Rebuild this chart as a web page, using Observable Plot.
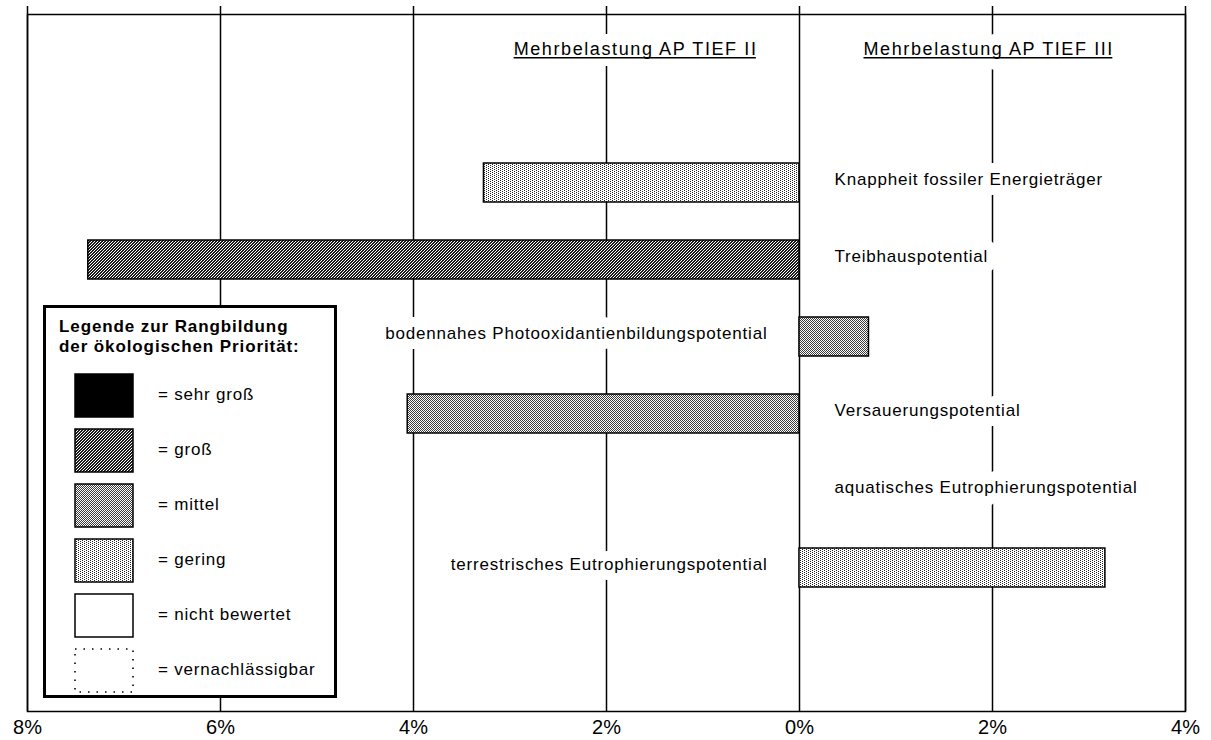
<!DOCTYPE html>
<html>
<head>
<meta charset="utf-8">
<script src="https://cdn.jsdelivr.net/npm/d3@7"></script>
<script src="https://cdn.jsdelivr.net/npm/@observablehq/plot@0.6"></script>
<style>
  html, body { margin: 0; padding: 0; background: #fff; }
  #wrap { position: relative; width: 1211px; height: 740px; overflow: hidden; }
  #wrap svg.plot-root { display: block; }
  #legend {
    position: absolute; left: 43px; top: 305px; width: 288px; height: 387px;
    border: 3px solid #000; background: #fff;
    font-family: "Liberation Sans", Arial, Helvetica, sans-serif; color: #000;
  }
  #legend .ttl { position: absolute; left: 13px; top: 9px; font-weight: bold; font-size: 17px; line-height: 20px; letter-spacing: 0.9px; white-space: nowrap; }
  #legend .row { position: absolute; left: 28px; height: 45px; }
  #legend .row svg { position: absolute; left: 0; top: 0; }
  #legend .row span { position: absolute; left: 84px; top: 0; line-height: 44px; font-size: 17px; letter-spacing: 0.8px; white-space: nowrap; }
</style>
</head>
<body>
<svg width="0" height="0" style="position:absolute">
  <defs>
    <pattern id="p-sehrgross" patternUnits="userSpaceOnUse" width="2" height="2">
      <rect width="2" height="2" fill="#000"/>
    </pattern>
    <pattern id="p-gross" patternUnits="userSpaceOnUse" width="3" height="3" shape-rendering="crispEdges">
      <rect width="3" height="3" fill="#1a1a1a"/>
      <rect x="0" y="2" width="1" height="1" fill="#fff"/>
      <rect x="1" y="1" width="1" height="1" fill="#fff"/>
      <rect x="2" y="0" width="1" height="1" fill="#fff"/>
    </pattern>
    <pattern id="p-mittel" patternUnits="userSpaceOnUse" width="2" height="2" shape-rendering="crispEdges">
      <rect width="2" height="2" fill="#fff"/>
      <rect x="0" y="0" width="1" height="1" fill="#3a3a3a"/>
      <rect x="1" y="1" width="1" height="1" fill="#3a3a3a"/>
    </pattern>
    <pattern id="p-gering" patternUnits="userSpaceOnUse" width="4" height="2" shape-rendering="crispEdges">
      <rect width="4" height="2" fill="#fff"/>
      <rect x="0" y="0" width="1" height="1" fill="#222"/>
      <rect x="2" y="1" width="1" height="1" fill="#222"/>
    </pattern>
    <pattern id="p-none" patternUnits="userSpaceOnUse" width="2" height="2">
      <rect width="2" height="2" fill="#fff"/>
    </pattern>
  </defs>
</svg>
<div id="wrap"></div>
<script>
// ---- data ----
const categories = [
  "Knappheit fossiler Energieträger",
  "Treibhauspotential",
  "bodennahes Photooxidantienbildungspotential",
  "Versauerungspotential",
  "aquatisches Eutrophierungspotential",
  "terrestrisches Eutrophierungspotential"
];
// negative = Mehrbelastung AP TIEF II (left), positive = Mehrbelastung AP TIEF III (right), in %
const values = [-3.27, -7.37, 0.72, -4.06, 0, 3.17];
const priorities = ["gering", "groß", "mittel", "mittel", "vernachlässigbar", "gering"];
const tickValues = [-8, -6, -4, -2, 0, 2, 4];
const tickLabels = ["8%", "6%", "4%", "2%", "0%", "2%", "4%"];
const titles = ["Mehrbelastung AP TIEF II", "Mehrbelastung AP TIEF III"];
const legendTitle = ["Legende zur Rangbildung", "der ökologischen Priorität:"];
const legendKeys = ["sehr groß", "groß", "mittel", "gering", "nicht bewertet", "vernachlässigbar"];
const legendLabels = ["= sehr groß", "= groß", "= mittel", "= gering", "= nicht bewertet", "= vernachlässigbar"];

const patternOf = {
  "sehr groß": "url(#p-sehrgross)",
  "groß": "url(#p-gross)",
  "mittel": "url(#p-mittel)",
  "gering": "url(#p-gering)",
  "nicht bewertet": "url(#p-none)",
  "vernachlässigbar": "url(#p-none)"
};

const rows = categories.map((c, i) => ({category: c, value: values[i], prio: priorities[i]}));
const bars = rows.filter(d => d.value !== 0);
const font = "'Liberation Sans', Arial, Helvetica, sans-serif";

const chart = Plot.plot({
  width: 1211,
  height: 740,
  marginTop: 14,
  marginBottom: 29,
  marginLeft: 27,
  marginRight: 26,
  x: {domain: [-8, 4], axis: null},
  y: {domain: categories, range: [124.25, 624.75], padding: 0.5, axis: null},
  color: {type: "identity"},
  style: {fontFamily: font, fontSize: "17px", background: "#fff", color: "#000"},
  marks: [
    Plot.ruleX(tickValues, {x: d => d, stroke: "#000", strokeWidth: 1.5, insetTop: -8}),
    Plot.frame({stroke: "#000", strokeWidth: 1.5}),
    Plot.barX(bars, {
      x1: 0, x2: "value", y: "category",
      fill: d => patternOf[d.prio],
      stroke: "#000", strokeWidth: 1.5
    }),
    Plot.text(rows.filter(d => d.value <= 0), {
      x: 0, y: "category", text: "category", textAnchor: "start", dx: 35, dy: -3,
      fill: "#000", stroke: "#fff", strokeWidth: 20, fontSize: 17, fontFamily: font
    }),
    Plot.text(rows.filter(d => d.value > 0), {
      x: 0, y: "category", text: "category", textAnchor: "end", dx: -32, dy: -3,
      fill: "#000", stroke: "#fff", strokeWidth: 20, fontSize: 17, fontFamily: font
    }),
    Plot.text([titles[0]], {
      x: 0, frameAnchor: "top", text: d => d, textAnchor: "end", dx: -42, dy: 28,
      fill: "#000", stroke: "#fff", strokeWidth: 22, fontSize: 18, fontFamily: font
    }),
    Plot.text([titles[1]], {
      x: 0, frameAnchor: "top", text: d => d, textAnchor: "start", dx: 64, dy: 28,
      fill: "#000", stroke: "#fff", strokeWidth: 22, fontSize: 18, fontFamily: font
    }),
    Plot.axisX(tickValues, {
      tickSize: 0, tickPadding: 8, label: null,
      tickFormat: d => tickLabels[tickValues.indexOf(d)],
      fontSize: 20, fontFamily: font, fill: "#000"
    })
  ]
});
chart.classList.add("plot-root");
const wrap = document.getElementById("wrap");
wrap.appendChild(chart);

// text styling: letter spacing like the scanned original, underline under the headings
d3.select(chart).selectAll("text").each(function () {
  const t = this.textContent;
  if (categories.includes(t)) {
    this.style.letterSpacing = "0.8px";
  } else if (titles.includes(t)) {
    this.style.letterSpacing = "1.6px";
    const b = this.getBBox();
    const yLine = b.y + b.height - 1.5;
    const line = d3.select(this.parentNode).append("line")
      .attr("x1", b.x).attr("x2", b.x + b.width - 1.6)
      .attr("y1", yLine).attr("y2", yLine)
      .attr("stroke", "#000").attr("stroke-width", 1.5);
    const tr = this.getAttribute("transform");
    if (tr) line.attr("transform", tr);
  }
});

// ---- legend overlay ----
const legend = document.createElement("div");
legend.id = "legend";
const ttl = document.createElement("div");
ttl.className = "ttl";
ttl.innerHTML = legendTitle.join("<br>");
legend.appendChild(ttl);
legendKeys.forEach((k, i) => {
  const row = document.createElement("div");
  row.className = "row";
  row.style.top = (65 + i * 55) + "px";
  const dotted = k === "vernachlässigbar";
  row.innerHTML =
    `<svg width="62" height="46"><rect x="1" y="1" width="58" height="43" fill="${patternOf[k]}" stroke="#000" stroke-width="${dotted ? 1.6 : 1.5}" ${dotted ? 'stroke-dasharray="1.5 7" fill-opacity="0"' : ''}/></svg>` +
    `<span>${legendLabels[i]}</span>`;
  legend.appendChild(row);
});
wrap.appendChild(legend);
</script>
</body>
</html>
